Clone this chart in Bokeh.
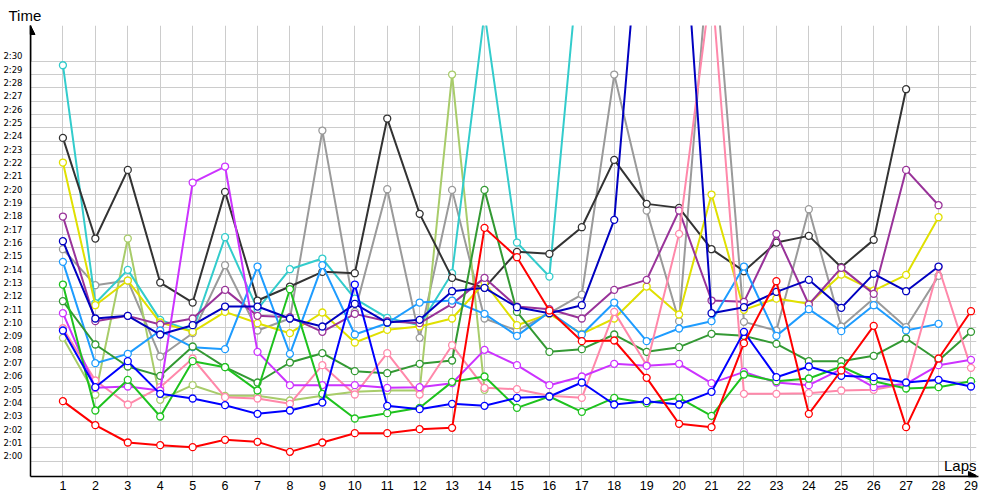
from bokeh.plotting import figure
from bokeh.models import (FixedTicker, Label, Arrow, NormalHead, Range1d)
from bokeh.embed import file_html
from bokeh.resources import INLINE

# ---------------- data (lap times in seconds) ----------------
laps = list(range(1, 30))
y_ticks = list(range(120, 151))
y_tick_labels = ["%d:%02d" % (t // 60, t % 60) for t in y_ticks]

red = [124.5, 122.7, 121.4, 121.2, 121.05, 121.6, 121.45, 120.7, 121.4, 122.1,
       122.1, 122.4, 122.5, 137.5, 135.3, 131.3, 129.0, 129.05, 126.25, 122.8,
       122.55, 128.85, 133.5, 123.55, 126.8, 130.15, 122.55, 127.7, 131.25]
blue = [129.8, 125.55, 127.5, 125.05, 124.7, 124.2, 123.55, 123.8, 124.4, 133.25,
        124.15, 123.9, 124.3, 124.15, 124.75, 124.85, 125.9, 124.25, 124.5, 124.25,
        125.2, 129.7, 126.3, 127.1, 126.4, 126.3, 125.9, 126.1, 125.6]
navy = [136.5, 130.7, 130.9, 129.5, 130.2, 131.6, 131.6, 130.7, 130.1, 131.8,
        130.4, 130.6, 132.75, 133.0, 131.55, 131.1, 131.7, 138.1, 167.0, 166.0,
        131.1, 131.55, 132.7, 133.6, 131.5, 134.05, 132.75, 134.6]
green = [133.25, 123.8, 126.1, 123.35, 127.5, 127.05, 125.3, 132.9, 125.05, 123.2,
         123.6, 124.0, 125.95, 126.35, 124.0, 124.85, 123.7, 124.75, 124.35, 124.75,
         123.4, 126.5, 126.0, 126.2, 127.1, 126.0, 125.45, 125.55, 126.0]
dgreen = [132.0, 128.75, 127.1, 126.4, 128.6, 127.05, 125.9, 127.4, 128.1, 126.75,
          126.6, 127.3, 127.55, 140.35, 131.2, 128.2, 128.4, 129.5, 128.2, 128.55,
          129.55, 129.4, 128.8, 127.5, 127.5, 127.9, 129.2, 127.55, 129.7]
yellow = [142.4, 131.7, 133.55, 130.4, 129.7, 131.2, 130.35, 129.6, 131.15, 128.9,
          129.85, 130.1, 130.7, 133.4, 130.2, 131.05, 129.55, 130.7, 133.1, 131.0,
          140.0, 131.35, 132.2, 131.8, 134.0, 132.8, 133.97, 138.3]
cyan = [149.7, 131.85, 134.35, 130.6, 129.75, 136.8, 131.4, 134.4, 135.2, 132.2,
        130.75, 130.2, 134.1, 153.6, 136.4, 133.85, 160.0]
lblue = [134.95, 127.35, 128.05, 129.8, 128.55, 128.4, 134.6, 128.05, 134.7, 129.5,
         130.35, 131.9, 132.05, 131.05, 129.4, 131.2, 129.5, 131.9, 129.0, 129.95,
         130.5, 134.6, 129.4, 131.4, 129.75, 131.7, 129.8, 130.3]
purple = [138.35, 130.5, 130.9, 130.25, 130.7, 132.85, 130.9, 130.8, 129.7, 131.05,
          130.5, 130.35, 131.8, 133.75, 131.6, 131.4, 130.7, 132.85, 133.6, 138.8,
          132.05, 131.95, 137.05, 131.75, 134.5, 132.55, 141.85, 139.2]
magenta = [131.1, 125.5, 125.6, 125.3, 140.9, 142.1, 128.2, 125.7, 125.7, 125.7,
           125.5, 125.55, 125.85, 128.35, 127.2, 125.7, 126.35, 127.3, 127.15, 127.3,
           125.85, 126.7, 125.9, 125.7, 126.9, 125.55, 125.8, 127.2, 127.6]
pink = [129.97, 126.05, 124.25, 125.55, 127.7, 124.8, 124.7, 124.3, 127.2, 125.0,
        128.1, 125.0, 128.7, 125.5, 125.4, 124.9, 124.75, 131.2, 127.2, 137.05,
        156.0, 125.05, 125.05, 125.1, 125.3, 125.35, 125.8, 134.55, 127.0]
olive = [129.25, 124.98, 136.7, 124.6, 125.7, 124.9, 124.9, 124.55, 124.9, 125.2,
         125.3, 125.3, 149.0, 125.35]
gray = [135.9, 133.2, 133.55, 127.85, 129.6, 134.7, 129.8, 130.7, 144.8, 131.2,
        140.4, 129.25, 140.35, 130.7, 129.8, 131.1, 132.5, 149.0, 138.8, 130.5,
        160.5, 130.45, 129.8, 138.9, 130.1, 132.2, 130.05, 133.9]
black = [144.25, 136.7, 141.85, 133.4, 131.9, 140.2, 132.05, 133.1, 134.2, 134.1,
         145.7, 138.55, 133.75, 133.0, 135.7, 135.55, 137.55, 142.6, 139.3, 139.0,
         135.9, 134.25, 136.4, 136.9, 134.55, 136.6, 147.9]

series = [
    (gray, "#9a9a9a"), (olive, "#a8cc6a"), (cyan, "#33cccc"), (black, "#333333"),
    (yellow, "#e0e000"), (purple, "#993399"), (lblue, "#1e9cff"),
    (dgreen, "#339933"), (pink, "#ff88aa"), (magenta, "#cc33ff"),
    (green, "#1ec21e"), (navy, "#0000c0"), (blue, "#0000ff"), (red, "#ff0000"),
]

X0, X1 = 0, 29.17
Y0, Y1 = 118.85, 152.68
LABEL_SHIFT = 0.375   # tick labels sit ~5px above their grid line

p = figure(width=1000, height=500, output_backend="svg", toolbar_location=None,
           x_range=Range1d(X0, X1), y_range=Range1d(Y0, Y1),
           min_border_left=30, min_border_right=24, min_border_top=25,
           min_border_bottom=24)
p.outline_line_color = None
p.background_fill_color = "white"
p.border_fill_color = "white"

# title "Time" above the y axis
p.title.text = "Time"
p.title.align = "left"
p.title.offset = -22
p.title.standoff = 3
p.title.text_font = "Liberation Sans"
p.title.text_font_size = "15px"
p.title.text_font_style = "normal"
p.title.text_color = "black"

# x axis
p.xaxis.ticker = FixedTicker(ticks=laps)
p.xaxis.major_label_standoff = 4
p.xaxis.major_label_text_font = "Liberation Sans"
p.xaxis.major_label_text_font_size = "12.5px"
p.xaxis.major_label_text_color = "black"

# y axis: labels drawn through a range shifted by a few pixels
p.extra_y_ranges = {"lab": Range1d(Y0 - LABEL_SHIFT, Y1 - LABEL_SHIFT)}
yax = p.yaxis[0]
yax.y_range_name = "lab"
yax.ticker = FixedTicker(ticks=y_ticks)
yax.major_label_overrides = {t: s for t, s in zip(y_ticks, y_tick_labels)}
yax.major_label_standoff = 8
yax.major_label_text_font = "DejaVu Sans"
yax.major_label_text_font_size = "8.5px"
yax.major_label_text_color = "black"

for ax in (p.xaxis[0], yax):
    ax.axis_line_color = "black"
    ax.axis_line_width = 1.5
    ax.major_tick_line_color = None
    ax.minor_tick_line_color = None
    ax.major_tick_out = 0
    ax.major_tick_in = 0

p.xgrid.ticker = FixedTicker(ticks=laps)
p.ygrid.ticker = FixedTicker(ticks=y_ticks)
p.grid.grid_line_color = "#cccccc"
p.grid.grid_line_width = 1

for vals, col in series:
    xs = laps[:len(vals)]
    p.line(xs, vals, line_color=col, line_width=2)
    p.scatter(xs, vals, size=7, fill_color="white", line_color=col, line_width=1.3)

# axis arrows
p.add_layout(Arrow(end=NormalHead(size=9, fill_color="black", line_color="black"),
                   x_start=X0, y_start=150, x_end=X0, y_end=Y1,
                   line_color="black", line_width=1.5))
p.add_layout(Arrow(end=NormalHead(size=10, fill_color="black", line_color="black"),
                   x_start=28, y_start=Y0, x_end=29.23, y_end=Y0,
                   line_color="black", line_width=1.5))

# x axis title inside the frame, above the arrow
p.add_layout(Label(x=X1, y=Y0 + 0.86, text="Laps",
                   text_align="right", text_baseline="middle",
                   text_font="Liberation Sans", text_font_size="15px",
                   text_color="black"))

open("out.html", "w").write(file_html(p, INLINE))
